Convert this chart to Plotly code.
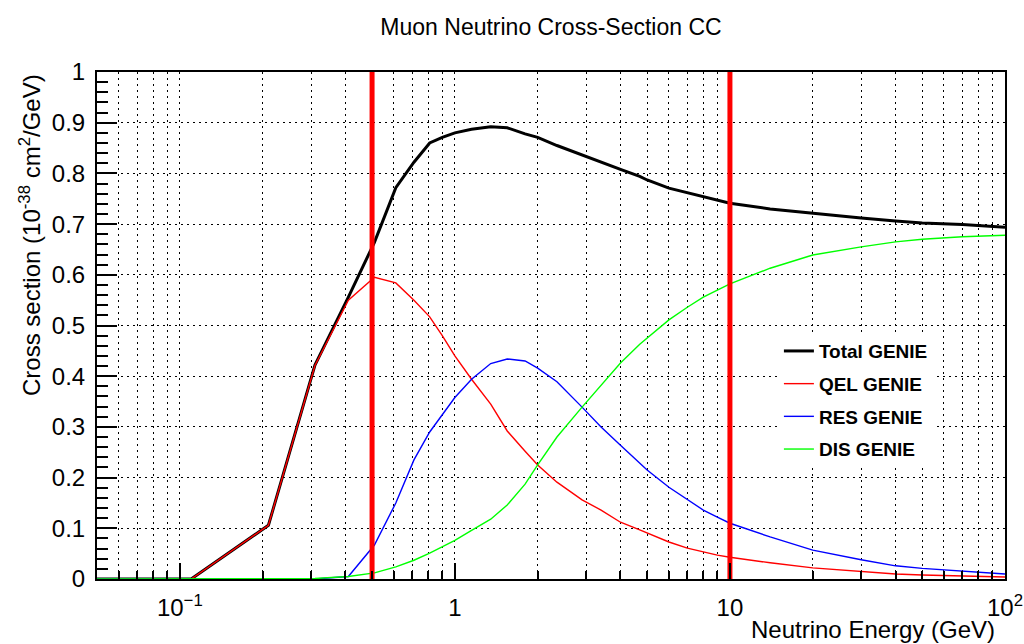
import plotly.graph_objects as go

# ---- data ----
energy = [0.05, 0.11, 0.21, 0.31, 0.41, 0.51, 0.61, 0.71, 0.81, 0.9, 1.0, 1.15, 1.35, 1.55,
          1.8, 2.0, 2.35, 2.9, 3.4, 4.0, 4.7, 5.0, 6.0, 7.0, 8.0, 9.0, 10, 14, 20, 30, 40,
          50, 70, 100]
total = [0, 0, 0.106, 0.422, 0.556, 0.664, 0.772, 0.822, 0.860, 0.871, 0.880, 0.887, 0.892,
         0.890, 0.878, 0.871, 0.855, 0.836, 0.822, 0.808, 0.794, 0.787, 0.771, 0.762, 0.754,
         0.747, 0.741, 0.730, 0.721, 0.712, 0.706, 0.702, 0.699, 0.694]
qel = [0, 0, 0.106, 0.421, 0.550, 0.595, 0.584, 0.550, 0.517, 0.480, 0.440, 0.394, 0.345,
       0.292, 0.252, 0.225, 0.191, 0.156, 0.136, 0.112, 0.097, 0.091, 0.073, 0.061, 0.053,
       0.047, 0.043, 0.032, 0.022, 0.015, 0.010, 0.008, 0.006, 0.004]
res = [0, 0, 0, 0, 0.005, 0.067, 0.150, 0.235, 0.290, 0.325, 0.358, 0.394, 0.425, 0.434,
       0.430, 0.416, 0.389, 0.339, 0.300, 0.264, 0.228, 0.215, 0.181, 0.156, 0.136, 0.122,
       0.110, 0.083, 0.057, 0.038, 0.026, 0.021, 0.015, 0.010]
dis = [0, 0, 0, 0.001, 0.005, 0.012, 0.024, 0.037, 0.051, 0.064, 0.076, 0.096, 0.118, 0.146,
       0.187, 0.225, 0.280, 0.339, 0.381, 0.426, 0.463, 0.475, 0.511, 0.536, 0.556, 0.570,
       0.582, 0.613, 0.639, 0.655, 0.665, 0.670, 0.675, 0.678]

series_names = ["Total GENIE", "QEL GENIE", "RES GENIE", "DIS GENIE"]
cut_energies = [0.5, 10]
y_span = [0, 1]
x_tickvals = [0.1, 1, 10, 100]
x_ticktext = ["10<sup>\u22121</sup>", "1", "10", "10<sup>2</sup>"]

FONT = "Liberation Sans, Arial, Helvetica, sans-serif"

fig = go.Figure()
styles = [("#000000", 3), ("#ff0000", 1.4), ("#0000ff", 1.4), ("#00ff00", 1.4)]
for i, (name, vals) in enumerate(zip(series_names, [total, qel, res, dis])):
    col, w = styles[i]
    fig.add_trace(go.Scatter(x=energy, y=vals, mode="lines", name=name,
                             legendgroup=name, line=dict(color=col, width=w)))

for e in cut_energies:
    fig.add_trace(go.Scatter(x=[e, e], y=y_span, mode="lines", showlegend=False,
                             line=dict(color="#ff0000", width=5)))

grid_dash = "2px,4px"
fig.update_layout(
    width=1024, height=644,
    margin=dict(l=97, r=19, t=72, b=65, autoexpand=False),
    paper_bgcolor="white", plot_bgcolor="white",
    font=dict(family=FONT, color="black"),
    title=dict(text="Muon Neutrino Cross-Section CC", x=0.5, xref="paper",
               xanchor="center", y=1 - 27 / 644, yanchor="middle",
               font=dict(size=23, family=FONT, color="black")),
    showlegend=True,
    legend=dict(x=0.751, y=0.487, xanchor="left", yanchor="top",
                bgcolor="white", borderwidth=0, traceorder="grouped",
                tracegroupgap=5,
                font=dict(size=19, family=FONT, color="black", weight="bold")),
    xaxis=dict(type="log", range=[-1.30103, 2], automargin=False,
               tickmode="array", tickvals=x_tickvals, ticktext=x_ticktext,
               ticks="inside", ticklen=16, tickwidth=1.5, tickcolor="black",
               showline=True, linecolor="black", linewidth=2, mirror=True,
               showgrid=True, gridcolor="black", gridwidth=1, griddash=grid_dash,
               zeroline=False,
               minor=dict(dtick="D1", ticks="inside", ticklen=8, tickwidth=1.5,
                          tickcolor="black", showgrid=True, gridcolor="black",
                          gridwidth=1, griddash=grid_dash),
               tickfont=dict(size=24, family=FONT, color="black"),
               ticklabelstandoff=6),
    yaxis=dict(range=[0, 1], dtick=0.1, tick0=0, automargin=False,
               ticks="inside", ticklen=20, tickwidth=1.5, tickcolor="black",
               showline=True, linecolor="black", linewidth=2, mirror=True,
               showgrid=True, gridcolor="black", gridwidth=1, griddash=grid_dash,
               zeroline=False,
               minor=dict(dtick=0.02, ticks="inside", ticklen=11, tickwidth=1.5,
                          tickcolor="black", showgrid=False),
               tickfont=dict(size=24, family=FONT, color="black"),
               ticklabelstandoff=5),
    annotations=[
        dict(text="Neutrino Energy (GeV)", xref="paper", yref="paper",
             x=0.991, y=(579 - 629) / 507, xanchor="right", yanchor="middle",
             showarrow=False, font=dict(size=24, family=FONT, color="black")),
        dict(text="Cross section (10<sup>-38</sup> cm<sup>2</sup>/GeV)",
             xref="paper", yref="paper", x=(30 - 97) / 908, y=1.0,
             xanchor="center", yanchor="top", textangle=-90,
             showarrow=False, font=dict(size=24, family=FONT, color="black")),
    ],
)

fig.write_html("out.html")
